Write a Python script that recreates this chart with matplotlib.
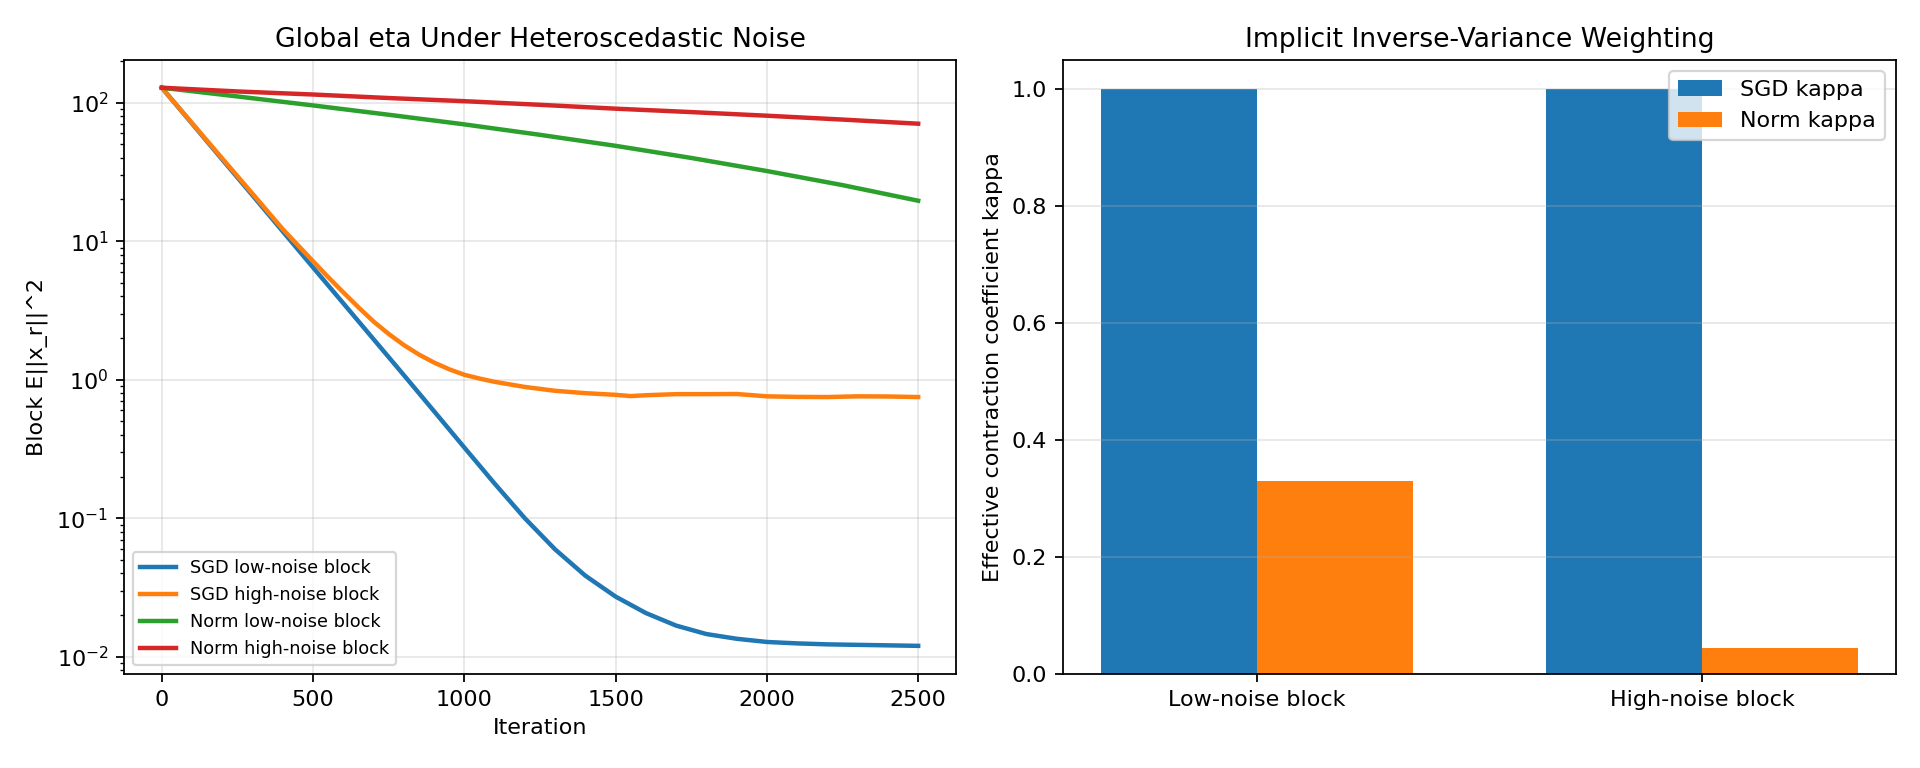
import matplotlib
matplotlib.use("Agg")
import matplotlib.pyplot as plt
import numpy as np

# ---- Left panel data ----
iters_low = [0, 100, 200, 300, 400, 500, 600, 700, 800, 900, 1000, 1100, 1200,
             1300, 1400, 1500, 1600, 1700, 1800, 1900, 2000, 2100, 2200, 2300,
             2400, 2500]
sgd_low = [128.2, 70.6, 38.8, 21.4, 11.75, 6.46, 3.56, 1.96, 1.08, 0.592, 0.324,
           0.178, 0.100, 0.0596, 0.0385, 0.0272, 0.0207, 0.0168, 0.0146, 0.0135,
           0.0128, 0.0125, 0.0123, 0.0122, 0.0121, 0.0120]

iters_high = [0, 100, 200, 300, 400, 500, 550, 600, 650, 700, 750, 800, 850, 900,
              950, 1000, 1050, 1100, 1200, 1300, 1400, 1500, 1550, 1600, 1700,
              1800, 1900, 2000, 2100, 2200, 2300, 2400, 2500]
sgd_high = [128.2, 71.1, 39.5, 22.0, 12.2, 7.16, 5.50, 4.27, 3.33, 2.63, 2.14,
            1.78, 1.52, 1.33, 1.19, 1.086, 1.02, 0.966, 0.887, 0.832, 0.800,
            0.778, 0.762, 0.773, 0.787, 0.787, 0.789, 0.759, 0.752, 0.750, 0.759,
            0.757, 0.750]

iters_norm = [0, 250, 500, 750, 1000, 1250, 1500, 1750, 2000, 2250, 2500]
norm_low = [128.2, 110.9, 95.5, 81.8, 69.7, 58.6, 48.8, 39.9, 32.1, 25.4, 19.6]
norm_high = [128.2, 120.5, 114.5, 108.0, 102.5, 96.5, 90.5, 85.5, 80.5, 75.5, 70.5]

# ---- Right panel data ----
block_labels = ["Low-noise block", "High-noise block"]
sgd_kappa = [1.0, 1.0]
norm_kappa = [0.33, 0.044]

fig = plt.figure(figsize=(12, 4.8), dpi=160)
ax1 = fig.add_axes([0.06458, 0.12240, 0.43333, 0.79948])
ax2 = fig.add_axes([0.55349, 0.12240, 0.43401, 0.79948])

ax1.plot(iters_low, sgd_low, color="#1f77b4", lw=2, label="SGD low-noise block")
ax1.plot(iters_high, sgd_high, color="#ff7f0e", lw=2, label="SGD high-noise block")
ax1.plot(iters_norm, norm_low, color="#2ca02c", lw=2, label="Norm low-noise block")
ax1.plot(iters_norm, norm_high, color="#d62728", lw=2, label="Norm high-noise block")
ax1.set_yscale("log")
ax1.set_ylim(10 ** -2.124, 10 ** 2.308)
ax1.set_xlabel("Iteration")
ax1.set_ylabel("Block E||x_r||^2")
ax1.set_title("Global eta Under Heteroscedastic Noise")
ax1.grid(True, alpha=0.3)
ax1.legend(loc="lower left", fontsize=8)

x = np.arange(len(block_labels))
w = 0.35
ax2.bar(x - w / 2, sgd_kappa, w, color="#1f77b4", label="SGD kappa")
ax2.bar(x + w / 2, norm_kappa, w, color="#ff7f0e", label="Norm kappa")
ax2.set_xticks(x)
ax2.set_xticklabels(block_labels)
ax2.set_ylabel("Effective contraction coefficient kappa")
ax2.set_title("Implicit Inverse-Variance Weighting")
ax2.grid(True, axis="y", alpha=0.3)
ax2.legend(loc="upper right")

fig.savefig("out.png", dpi=160)
